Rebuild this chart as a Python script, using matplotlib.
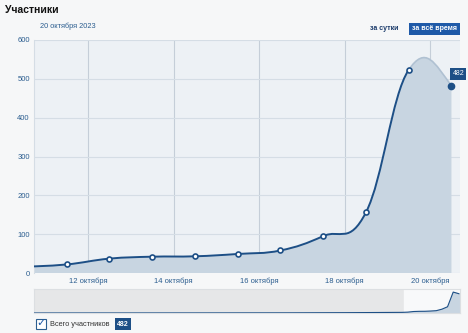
import numpy as np
import matplotlib
matplotlib.use("Agg")
import matplotlib.pyplot as plt
from matplotlib.path import Path
from matplotlib.patches import PathPatch, Rectangle

plt.rcParams["font.family"] = ["Liberation Sans", "DejaVu Sans"]

# данные (участники по дням, октябрь 2023)
days = [10, 11, 12, 13, 14, 15, 16, 17, 18, 19, 20]
members = [16, 22, 37, 42, 43, 49, 58, 95, 156, 523, 482]
tick_days = [12, 14, 16, 18, 20]
tick_labels = ["12 октября", "14 октября", "16 октября", "18 октября", "20 октября"]
y_ticks = [0, 100, 200, 300, 400, 500, 600]

# навигатор: вся история (почти ноль до октября)
nav_days = [-55, -40, -25, -10, 0, 5] + days
nav_members = [0, 1, 2, 4, 8, 12] + members

BLUE = "#1d4f86"
TXT = "#2b5d8f"
FILL = "#c8d5e1"


def spline(xs, ys, smoothing=1.5, end_lift=60):
    # сплайн в стиле highcharts (без обрезки выбросов)
    n = len(xs)
    lc = [(xs[i], ys[i]) for i in range(n)]
    rc = [(xs[i], ys[i]) for i in range(n)]
    den = smoothing + 1
    for i in range(1, n - 1):
        lx = (smoothing * xs[i] + xs[i - 1]) / den
        ly = (smoothing * ys[i] + ys[i - 1]) / den
        rx = (smoothing * xs[i] + xs[i + 1]) / den
        ry = (smoothing * ys[i] + ys[i + 1]) / den
        corr = (ry - ly) * (rx - xs[i]) / (rx - lx) + ys[i] - ry
        lc[i] = (lx, ly + corr)
        rc[i] = (rx, ry + corr)
    # конец кривой приходит сверху
    lc[-1] = ((smoothing * xs[-1] + xs[-2]) / den, ys[-1] + end_lift)
    verts = [(xs[0], ys[0])]
    codes = [Path.MOVETO]
    for i in range(1, n):
        verts += [rc[i - 1], lc[i], (xs[i], ys[i])]
        codes += [Path.CURVE4] * 3
    return verts, codes


xs = [d + 0.5 for d in days]

fig = plt.figure(figsize=(4.68, 3.33), dpi=100, facecolor="#f6f7f8")
ax = fig.add_axes([34 / 468, 60 / 333, 426 / 468, 233 / 333])
ax.set_facecolor("#edf1f5")

verts, codes = spline(xs, members)
# заливка
fv = verts + [(xs[-1], 0), (xs[0], 0), (xs[0], members[0])]
fc = codes + [Path.LINETO, Path.LINETO, Path.CLOSEPOLY]
ax.add_patch(PathPatch(Path(fv, fc), facecolor=FILL, edgecolor="none", zorder=2))
# линия (последний отрезок светлее)
ax.add_patch(PathPatch(Path(verts[:-3], codes[:-3]), facecolor="none",
                       edgecolor=BLUE, lw=1.4, zorder=3))
ax.add_patch(PathPatch(Path(verts[-4:], [Path.MOVETO] + codes[-3:]), facecolor="none",
                       edgecolor="#b0c1d2", lw=1.2, zorder=3))
ax.plot(xs[1:-1], members[1:-1], "o", ms=3.6, mfc="white", mec=BLUE, mew=1.2, zorder=4)
ax.plot(xs[-1], members[-1], "o", ms=4.5, color=BLUE, zorder=4)
ax.annotate(str(members[-1]), (xs[-1], members[-1]), xytext=(5, 6),
            textcoords="offset points", ha="center", va="bottom", fontsize=5,
            color="white", bbox=dict(boxstyle="square,pad=0.3", fc=BLUE, ec="none"),
            zorder=5, annotation_clip=False)

ax.set_xlim(10.737, 20.70)
ax.set_ylim(0, 600)
ax.set_yticks(y_ticks)
ax.set_xticks(tick_days)
ax.set_xticklabels(tick_labels)
ax.grid(axis="y", color="#d5dde5", lw=0.8)
ax.grid(axis="x", color="#c5ced8", lw=0.8)
ax.tick_params(length=0, labelsize=5.5, labelcolor=TXT, pad=3)
for s in ax.spines.values():
    s.set_visible(False)
ax.spines["left"].set_visible(True)
ax.spines["left"].set_color("#d5dde5")

# навигатор
nav = fig.add_axes([34 / 468, 20 / 333, 426 / 468, 24 / 333])
nav.set_facecolor("#e6e7e8")
nx = [d + 0.5 for d in nav_days]
nav.axvspan(10.737, 20.70, color="#f8f9fa", zorder=1)
nav.fill_between(nx, nav_members, color=FILL, zorder=2)
nav.plot(nx, nav_members, color=BLUE, lw=0.8, zorder=3)
nav.set_xlim(nx[0], 20.70)
nav.set_ylim(0, 600)
nav.set_xticks([])
nav.set_yticks([])
for s in nav.spines.values():
    s.set_color("#dcdfe2")

# заголовки и кнопки
fig.text(5 / 468, 1 - 10 / 333, "Участники", fontsize=7.5, fontweight="bold",
         va="center", color="#111")
fig.text(40 / 468, 1 - 26 / 333, "20 октября 2023", fontsize=5.3, va="center", color=TXT)
fig.text(384.5 / 468, 1 - 29 / 333, "за сутки", fontsize=5, fontweight="bold",
         va="center", ha="center", color="#1a3a6a")
fig.patches.append(Rectangle((409 / 468, 1 - 35 / 333), 51 / 468, 12 / 333,
                             transform=fig.transFigure, fc="#1f5aa8", ec="none"))
fig.text(434.5 / 468, 1 - 29 / 333, "за всё время", fontsize=5, fontweight="bold",
         va="center", ha="center", color="white")

# легенда внизу
fig.patches.append(Rectangle((36 / 468, 1 - 329 / 333), 10 / 468, 10 / 333,
                             transform=fig.transFigure, fc="white", ec="#2b5d8f", lw=0.8))
fig.text(41 / 468, 1 - 323 / 333, "✓", fontsize=8, fontweight="bold", ha="center",
         va="center", color="#1f5aa8")
fig.text(50 / 468, 1 - 324 / 333, "Всего участников", fontsize=5.3, va="center", color="#333")
fig.text(123 / 468, 1 - 324 / 333, str(members[-1]), fontsize=5, va="center",
         ha="center", color="white", fontweight="bold",
         bbox=dict(boxstyle="square,pad=0.35", fc=BLUE, ec="none"))

fig.savefig("out.png", dpi=100, facecolor=fig.get_facecolor())
